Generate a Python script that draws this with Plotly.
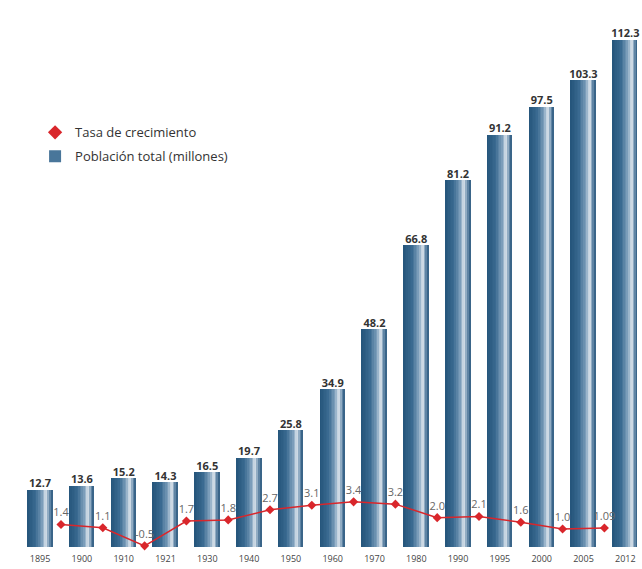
import plotly.graph_objects as go

years = ["1895", "1900", "1910", "1921", "1930", "1940", "1950", "1960",
         "1970", "1980", "1990", "1995", "2000", "2005", "2012"]
poblacion = [12.7, 13.6, 15.2, 14.3, 16.5, 19.7, 25.8, 34.9,
             48.2, 66.8, 81.2, 91.2, 97.5, 103.3, 112.3]
tasa = [1.4, 1.1, -0.5, 1.7, 1.8, 2.7, 3.1, 3.4, 3.2, 2.0, 2.1, 1.6, 1.0, 1.09]
tasa_labels = ["1.4", "1.1", "-0.5", "1.7", "1.8", "2.7", "3.1", "3.4", "3.2",
               "2.0", "2.1", "1.6", "1.0", "1.09"]

x_bar = list(range(len(years)))
x_line = [i + 0.5 for i in range(len(tasa))]

# cylinder-like horizontal gradient colour stops (position 0..1 across bar)
stops = [(0.0, (36, 84, 122)), (0.35, (58, 106, 145)), (0.62, (130, 163, 190)),
         (0.76, (225, 233, 240)), (0.88, (110, 145, 175)), (1.0, (40, 86, 124))]


def grad(t):
    for (p0, c0), (p1, c1) in zip(stops[:-1], stops[1:]):
        if p0 <= t <= p1:
            f = (t - p0) / (p1 - p0)
            return "rgb(%d,%d,%d)" % tuple(round(a + (b - a) * f) for a, b in zip(c0, c1))
    return "rgb(%d,%d,%d)" % stops[-1][1]


fig = go.Figure()

BW = 0.6
N = 16
sw = BW / N
for k in range(N):
    fig.add_trace(go.Bar(
        x=x_bar, y=poblacion, width=sw, offset=-BW / 2 + k * sw,
        marker=dict(color=grad((k + 0.5) / N), line=dict(width=0)),
        name="Población total (millones)", showlegend=(k == 6),
        legendrank=2, legendgroup="pob", hoverinfo="skip",
    ))

fig.add_trace(go.Scatter(
    x=x_bar, y=poblacion, mode="text", text=[f"{v:.1f}" for v in poblacion],
    textposition="top center", cliponaxis=False, showlegend=False,
    textfont=dict(family="Open Sans", size=11, color="#333333", weight="bold"),
    hoverinfo="skip",
))

fig.add_trace(go.Scatter(
    x=x_line, y=tasa, yaxis="y2", mode="lines+markers+text",
    text=tasa_labels, textposition="top center", cliponaxis=False,
    textfont=dict(family="Open Sans", size=11, color="#666666"),
    line=dict(color="#d9262b", width=1.5),
    marker=dict(symbol="diamond", size=7, color="#d9262b"),
    name="Tasa de crecimiento", showlegend=False,
))

# legend-only entry (diamond marker without line)
fig.add_trace(go.Scatter(
    x=[None], y=[None], yaxis="y2", mode="markers",
    marker=dict(symbol="diamond", size=11, color="#d9262b"),
    name="Tasa de crecimiento", legendrank=1, legendgroup="tasa",
))

fig.update_layout(
    width=642, height=569,
    margin=dict(l=10, r=5, t=10, b=22),
    paper_bgcolor="white", plot_bgcolor="white",
    barmode="overlay", bargap=0,
    font=dict(family="Open Sans", color="#333333"),
    xaxis=dict(range=[-0.72, 14.28], tickvals=x_bar, ticktext=years,
               showgrid=False, zeroline=False, showline=False,
               tickfont=dict(size=9, color="#444444"), ticks="",
               ticklabelstandoff=5),
    yaxis=dict(range=[0, 118.9], visible=False),
    yaxis2=dict(range=[-0.6, 47], overlaying="y", visible=False),
    legend=dict(x=0.04, y=0.80, xanchor="left", yanchor="top",
                font=dict(size=13, color="#333333"), bgcolor="rgba(0,0,0,0)",
                tracegroupgap=4, itemwidth=30, traceorder="grouped"),
    showlegend=True,
)

fig.write_html("out.html", config={"displayModeBar": False},
               post_script="document.body.style.margin='0';")
